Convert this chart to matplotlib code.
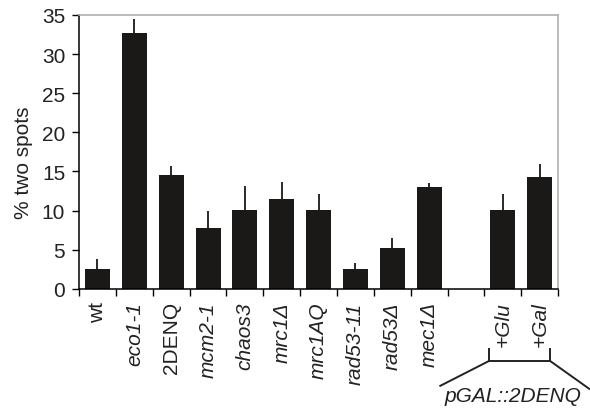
import numpy as np
import matplotlib
matplotlib.use("Agg")
import matplotlib.pyplot as plt
from matplotlib.lines import Line2D

plt.rcParams['font.family'] = ['Liberation Sans', 'DejaVu Sans']

# strains / conditions (empty string = gap slot)
labels = ['wt', 'eco1-1', '2DENQ', 'mcm2-1', 'chaos3', 'mrc1Δ', 'mrc1AQ',
          'rad53-11', 'rad53Δ', 'mec1Δ', '', '+Glu', '+Gal']
italic = [False, True, False, True, True, True, True,
          True, True, True, False, True, True]
# percent of cells with two spots, and upper error
values = [2.6, 32.7, 14.6, 7.8, 10.1, 11.5, 10.1, 2.5, 5.2, 13.0, None, 10.1, 14.3]
errors = [1.2, 1.8, 1.1, 2.1, 3.1, 2.2, 2.0, 0.8, 1.3, 0.5, None, 2.0, 1.7]
yticks = [0, 5, 10, 15, 20, 25, 30, 35]
group_label = 'pGAL::2DENQ'

fig = plt.figure(figsize=(5.9, 4.1), dpi=100)
ax = fig.add_axes([0.134, 0.293, 0.812, 0.668])

pos = [i for i, v in enumerate(values) if v is not None]
vals = [values[i] for i in pos]
errs = [errors[i] for i in pos]

ax.bar(pos, vals, width=0.68, color='#1b1818', zorder=2)
ax.errorbar(pos, vals, yerr=[np.zeros(len(errs)), errs], fmt='none',
            ecolor='#1b1818', elinewidth=1.3, capsize=0, zorder=3)

ax.set_xlim(-0.5, len(labels) - 0.5)
ax.set_ylim(0, 35)
ax.set_yticks(yticks)
ax.tick_params(axis='y', labelsize=15, length=5, width=1.0, pad=5,
               labelcolor='#222222')

# boundary ticks between categories, labels at the centres
ax.set_xticks(np.arange(-0.5, len(labels), 1.0))
ax.set_xticklabels([])
ax.set_xticks(np.arange(len(labels)), minor=True)
ax.set_xticklabels(labels, minor=True, rotation=90, fontsize=15,
                   color='#222222')
for lab, it in zip(ax.get_xticklabels(minor=True), italic):
    lab.set_style('italic' if it else 'normal')
ax.tick_params(axis='x', which='major', length=5, width=1.0, direction='out')
ax.tick_params(axis='x', which='minor', length=0, pad=9)

ax.set_ylabel('% two spots', fontsize=15, color='#222222')
ax.yaxis.set_label_coords(-0.097, 0.464)

for s in ['left', 'bottom']:
    ax.spines[s].set_color('black')
    ax.spines[s].set_linewidth(1.1)
for s in ['top', 'right']:
    ax.spines[s].set_color('#b0b0b0')
    ax.spines[s].set_linewidth(1.2)

# bracket grouping the galactose-inducible construct
lw = 1.4
bx0, bx1 = 0.856, 0.983
by0, by1 = -0.219, -0.263
for x in (bx0, bx1):
    ax.add_line(Line2D([x, x], [by0, by1], transform=ax.transAxes,
                       color='#222222', lw=lw, clip_on=False))
ax.add_line(Line2D([bx0, bx1], [by1, by1], transform=ax.transAxes,
                   color='#222222', lw=lw, clip_on=False))
ax.add_line(Line2D([bx0, 0.754], [by1, -0.354], transform=ax.transAxes,
                   color='#222222', lw=lw, clip_on=False))
ax.add_line(Line2D([bx1, 1.065], [by1, -0.365], transform=ax.transAxes,
                   color='#222222', lw=lw, clip_on=False))
ax.text(0.906, -0.41, group_label, transform=ax.transAxes, fontsize=15,
        style='italic', ha='center', va='baseline', color='#222222')

fig.savefig('out.png', dpi=100)
